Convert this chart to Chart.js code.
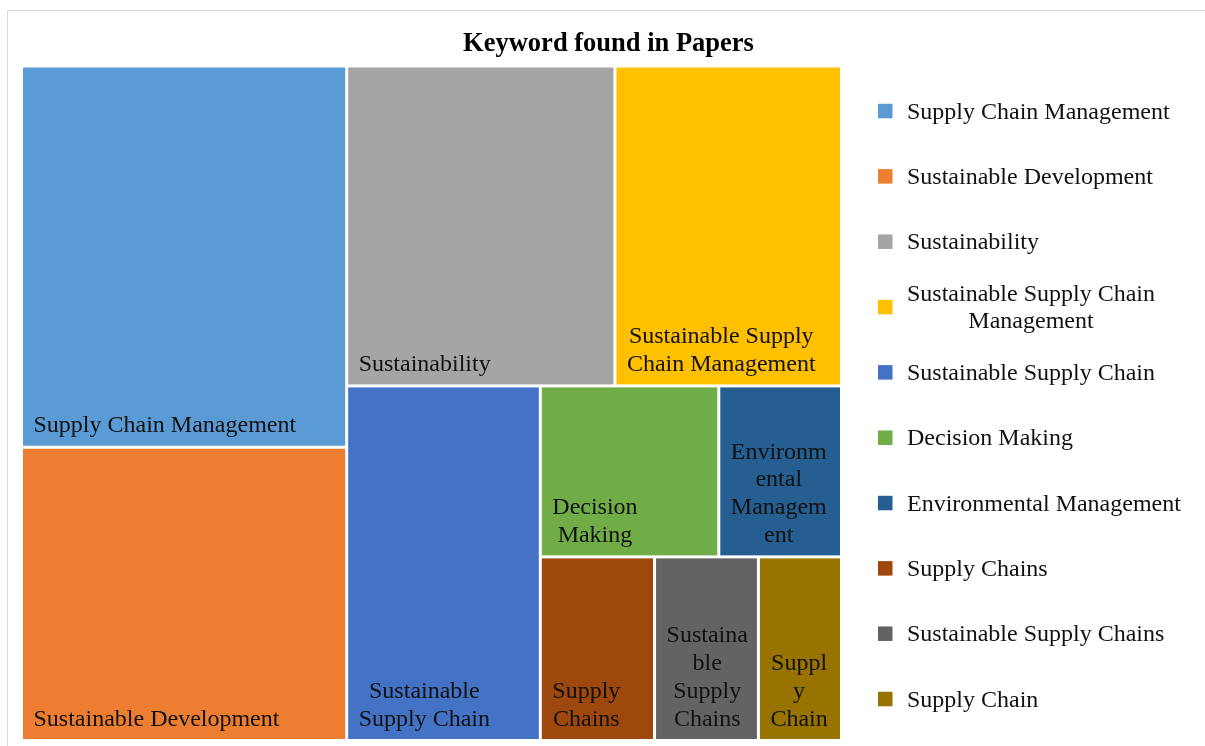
<!DOCTYPE html>
<html>
<head>
<meta charset="utf-8">
<script src="https://cdn.jsdelivr.net/npm/chart.js@4.4.1/dist/chart.umd.min.js"></script>
<style>
html,body{margin:0;padding:0;background:#ffffff;}
#wrap{position:relative;width:1205px;height:746px;}
canvas{display:block;}
</style>
</head>
<body>
<div id="wrap"><canvas id="c" width="1205" height="746"></canvas></div>
<script>
// ---- data ----
const chartTitle = 'Keyword found in Papers';
const categories = [
  'Supply Chain Management',
  'Sustainable Development',
  'Sustainability',
  'Sustainable Supply Chain Management',
  'Sustainable Supply Chain',
  'Decision Making',
  'Environmental Management',
  'Supply Chains',
  'Sustainable Supply Chains',
  'Supply Chain'
];
const values = [65, 50, 45, 38, 36, 16, 11, 11, 10, 8];
const colors = ['#5B9BD5','#ED7D31','#A5A5A5','#FFC000','#4472C4','#70AD47','#255E91','#9E480E','#636363','#997300'];

// ---- styles ----
const FONT_FAMILY = '"Liberation Serif", "Times New Roman", serif';
const LABEL_FONT = '24px ' + FONT_FAMILY;
const TITLE_FONT = 'bold 26.5px ' + FONT_FAMILY;
const TEXT_COLOR = '#111111';
const GAP = 1.5;
const LINE_H = 27.7;

// squarified treemap layout (values sorted descending)
function worst(row, side, scale){
  const s = row.reduce((a,b)=>a+b,0)*scale;
  const mx = Math.max(...row)*scale, mn = Math.min(...row)*scale;
  return Math.max(side*side*mx/(s*s), (s*s)/(side*side*mn));
}
function squarify(vals, rect){
  const total = vals.reduce((a,b)=>a+b,0);
  const scale = rect.w*rect.h/total;
  const out = [];
  let {x,y,w,h} = rect;
  let i = 0;
  while(i < vals.length){
    const side = Math.min(w,h);
    let row = [vals[i]];
    let j = i+1;
    while(j < vals.length){
      const nr = row.concat(vals[j]);
      if(worst(nr,side,scale) <= worst(row,side,scale)){ row = nr; j++; } else break;
    }
    const area = row.reduce((a,b)=>a+b,0)*scale;
    if(w >= h){
      const cw = area/h; let yy = y;
      row.forEach(v=>{ const hh = v*scale/cw; out.push({x:x,y:yy,w:cw,h:hh}); yy += hh; });
      x += cw; w -= cw;
    } else {
      const rh = area/w; let xx = x;
      row.forEach(v=>{ const ww = v*scale/rh; out.push({x:xx,y:y,w:ww,h:rh}); xx += ww; });
      y += rh; h -= rh;
    }
    i = j;
  }
  return out;
}

function wrapText(ctx, text, maxW){
  const words = text.split(' ');
  const lines = [];
  let cur = '';
  for(const wd of words){
    const t = cur ? cur + ' ' + wd : wd;
    if(ctx.measureText(t).width <= maxW){ cur = t; continue; }
    if(cur){ lines.push(cur); cur = ''; }
    if(ctx.measureText(wd).width <= maxW){ cur = wd; }
    else {
      let piece = '';
      for(const ch of wd){
        if(ctx.measureText(piece+ch).width <= maxW || piece === '') piece += ch;
        else { lines.push(piece); piece = ch; }
      }
      cur = piece;
    }
  }
  if(cur) lines.push(cur);
  return lines;
}

function drawBlock(ctx, lines, left, lastBaseline, lh){
  const widths = lines.map(l=>ctx.measureText(l).width);
  const bw = Math.max(...widths);
  const cx = left + bw/2;
  ctx.textAlign = 'center';
  ctx.textBaseline = 'alphabetic';
  lines.forEach((l,k)=>{
    const yy = lastBaseline - (lines.length-1-k)*lh;
    ctx.fillText(l, cx, yy);
  });
}

const treemapPlugin = {
  id: 'treemap',
  beforeDraw(chart){
    const ctx = chart.ctx;
    ctx.save();
    ctx.fillStyle = '#ffffff';
    ctx.fillRect(0,0,chart.width,chart.height);
    ctx.strokeStyle = '#d9d9d9';
    ctx.lineWidth = 1;
    ctx.strokeRect(7.5, 10.5, chart.width + 4, chart.height + 20);
    ctx.restore();
  },
  afterDatasetsDraw(chart){
    const ctx = chart.ctx;
    const a = chart.chartArea;
    const xs = chart.scales.x, ys = chart.scales.y;
    const AR = a.width / a.height;
    const rects = squarify(values, {x:0, y:0, w:AR, h:1});
    ctx.save();
    ctx.font = LABEL_FONT;
    rects.forEach((r,i)=>{
      const x0 = xs.getPixelForValue(r.x/AR), x1 = xs.getPixelForValue((r.x+r.w)/AR);
      const y0 = ys.getPixelForValue(1 - r.y), y1 = ys.getPixelForValue(1 - (r.y+r.h));
      const L = x0+GAP, R = x1-GAP, T = y0+GAP, B = y1-GAP;
      ctx.fillStyle = colors[i];
      ctx.fillRect(L, T, R-L, B-T);
      const lines = wrapText(ctx, categories[i], (R-L) - 17.5);
      ctx.fillStyle = TEXT_COLOR;
      drawBlock(ctx, lines, L + 10.5, B - 13.5, LINE_H);
    });
    ctx.restore();
  },
  afterDraw(chart){
    const ctx = chart.ctx;
    ctx.save();
    // title centred over the chart frame
    ctx.font = TITLE_FONT;
    ctx.fillStyle = '#000000';
    ctx.textAlign = 'center';
    ctx.textBaseline = 'alphabetic';
    ctx.fillText(chartTitle, (7.5 + chart.width + 4.5)/2, 51);
    // legend
    ctx.font = LABEL_FONT;
    const boxX = 878, textX = 907, startY = 118.8, step = 65.33;
    categories.forEach((c,i)=>{
      const base = startY + i*step;
      const lines = wrapText(ctx, c, 292);
      ctx.fillStyle = colors[i];
      ctx.fillRect(boxX, base - 15, 14.5, 14.5);
      ctx.fillStyle = TEXT_COLOR;
      const last = base + (lines.length-1)*26.8/2;
      drawBlock(ctx, lines, textX, last, 26.8);
    });
    ctx.restore();
  }
};

new Chart(document.getElementById('c'), {
  type: 'scatter',
  data: { datasets: [] },
  options: {
    responsive: false,
    animation: false,
    devicePixelRatio: 1,
    layout: { padding: { left: 21.5, right: 363.5, top: 66, bottom: 5.5 } },
    scales: {
      x: { type: 'linear', min: 0, max: 1, display: false },
      y: { type: 'linear', min: 0, max: 1, display: false }
    },
    plugins: { legend: { display: false }, title: { display: false }, tooltip: { enabled: false } }
  },
  plugins: [treemapPlugin]
});
</script>
</body>
</html>
